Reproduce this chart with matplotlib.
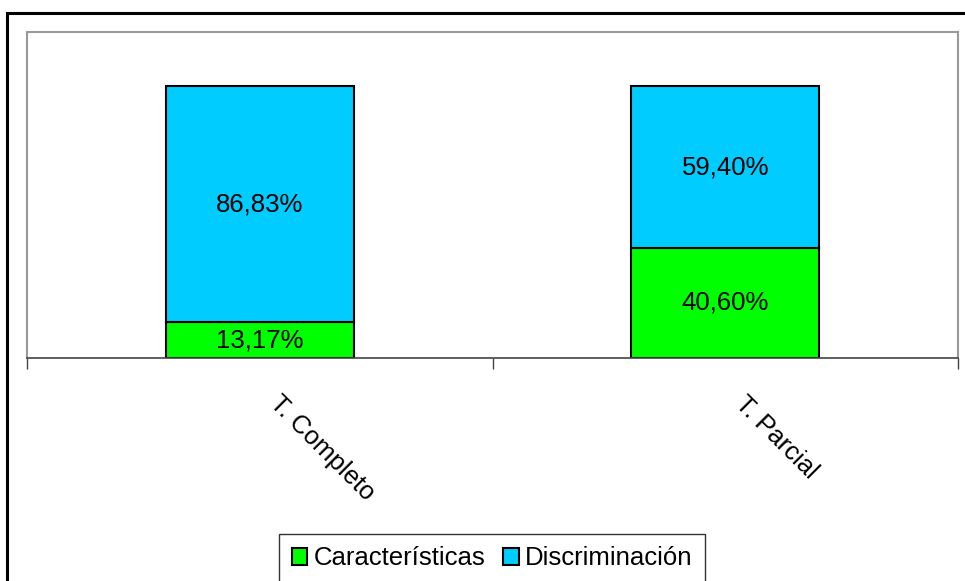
import numpy as np
import matplotlib.pyplot as plt
from matplotlib.patches import Rectangle
from matplotlib.transforms import ScaledTranslation

plt.rcParams['font.family'] = ['Liberation Sans', 'DejaVu Sans']

categorias = ["T. Completo", "T. Parcial"]
caracteristicas = [13.17, 40.60]
discriminacion = [86.83, 59.40]
series = ["Características", "Discriminación"]
colores = ["#00FF00", "#00CCFF"]

fig = plt.figure(figsize=(9.65, 5.81), dpi=100)
# marco exterior (estilo Excel)
fig.patches.append(Rectangle((7/965, -0.1), 1.1, 1 - 13/581 + 0.1, transform=fig.transFigure,
                             fill=False, edgecolor="black", linewidth=2.2))

ax = fig.add_axes([27/965, 1 - 358/581, (958-27)/965, (358-32)/581])
x = np.arange(len(categorias)) + 0.5
ancho = 0.404
c = np.array(caracteristicas) / 100
d = np.array(discriminacion) / 100
b1 = ax.bar(x, c, ancho, color=colores[0], edgecolor="black", linewidth=1.5, label=series[0])
b2 = ax.bar(x, d, ancho, bottom=c, color=colores[1], edgecolor="black", linewidth=1.5, label=series[1])

for i in range(len(categorias)):
    ax.text(x[i], c[i] / 2, f"{caracteristicas[i]:.2f}%".replace(".", ","),
            ha="center", va="center", fontsize=18.5)
    ax.text(x[i], c[i] + d[i] / 2, f"{discriminacion[i]:.2f}%".replace(".", ","),
            ha="center", va="center", fontsize=18.5)

ax.set_xlim(0, 2)
ax.set_ylim(0, 1.2)
ax.set_yticks([])
ax.set_xticks([0, 1, 2])
ax.set_xticklabels([])
ax.set_xticks(x, minor=True)
ax.set_xticklabels(categorias, minor=True, rotation=-45, ha="left", va="top",
                   rotation_mode="anchor", fontsize=18.5)
ax.tick_params(axis="x", which="minor", length=0, pad=24)
ax.tick_params(axis="x", which="major", length=8, width=1, color="#444444")
for lbl in ax.get_xticklabels(minor=True):
    lbl.set_transform(lbl.get_transform() + ScaledTranslation(0.22, 0, fig.dpi_scale_trans))
for s in ["top", "left", "right"]:
    ax.spines[s].set_color("#999999")
    ax.spines[s].set_linewidth(1.5)
ax.spines["bottom"].set_color("#444444")
ax.spines["bottom"].set_linewidth(1.2)

leg = fig.legend(handles=[b1, b2], labels=series, loc="lower center", bbox_to_anchor=(492/965, -0.004),
                 ncol=2, fontsize=18.5, frameon=True, fancybox=False, edgecolor="black",
                 handlelength=0.6, handleheight=0.6, handletextpad=0.25, columnspacing=0.7,
                 borderpad=0.5, borderaxespad=0.0)
leg.get_frame().set_linewidth(1.0)

plt.savefig("out.png", dpi=100)
